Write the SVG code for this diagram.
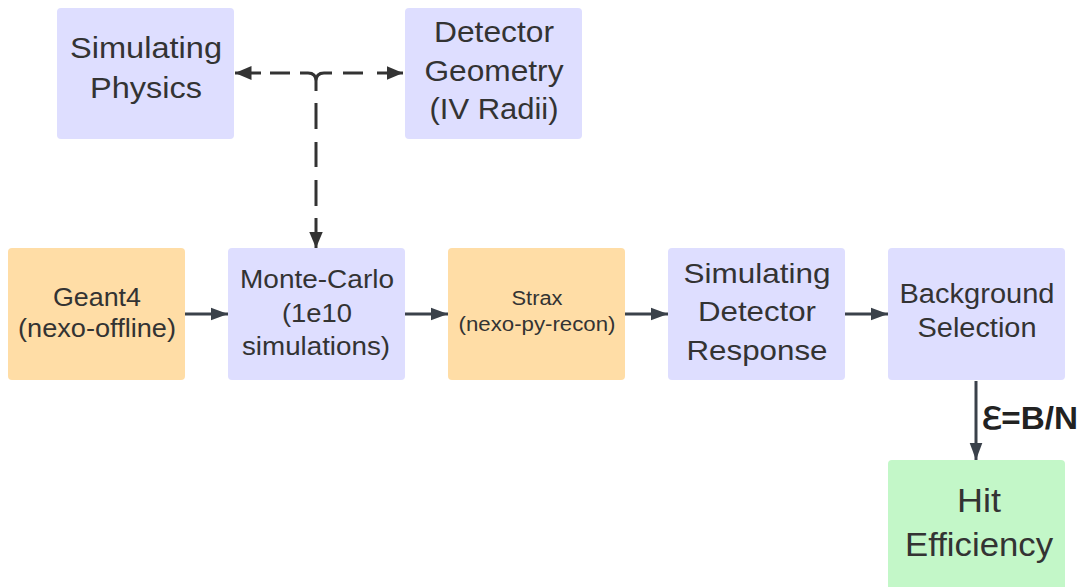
<svg xmlns="http://www.w3.org/2000/svg" width="1081" height="587" viewBox="0 0 1081 587">
<style>
.lav{fill:#dedeff}
.org{fill:#ffdda6}
.grn{fill:#c3f7c8}
text{font-family:"Liberation Sans",Arial,sans-serif;fill:#333333;text-anchor:middle}
.c{stroke:#3a414a;stroke-width:3;fill:none}
.d{stroke:#333333;stroke-width:3;fill:none}
</style>
<defs>
<marker id="ah" viewBox="0 0 10 10" refX="10" refY="5" markerWidth="5.7" markerHeight="5.7" orient="auto" markerUnits="strokeWidth">
<path d="M0,1.3 L10,5 L0,8.7 z" fill="#3a414a"/>
</marker>
<marker id="ad" viewBox="0 0 10 10" refX="10" refY="5" markerWidth="5.5" markerHeight="5.5" orient="auto" markerUnits="strokeWidth">
<path d="M0,0.8 L10,5 L0,9.2 z" fill="#333333"/>
</marker>
</defs>
<g id="connectors">
<line class="d" x1="261" y1="73" x2="235" y2="73" marker-end="url(#ad)"/>
<line class="d" x1="270" y1="73" x2="290" y2="73"/>
<path class="d" d="M300,73 L308,73 Q316,73 316,81 L316,91 M332,73 L324,73 Q316,73 316,81"/>
<line class="d" x1="343" y1="73" x2="363" y2="73"/>
<line class="d" x1="377" y1="73" x2="403" y2="73" marker-end="url(#ad)"/>
<line class="d" x1="316" y1="103" x2="316" y2="129"/>
<line class="d" x1="316" y1="142" x2="316" y2="167"/>
<line class="d" x1="316" y1="180" x2="316" y2="206"/>
<line class="d" x1="316" y1="218" x2="316" y2="248" marker-end="url(#ad)"/>
<line class="c" x1="185" y1="314" x2="228" y2="314" marker-end="url(#ah)"/>
<line class="c" x1="405" y1="314" x2="448" y2="314" marker-end="url(#ah)"/>
<line class="c" x1="625" y1="314" x2="668" y2="314" marker-end="url(#ah)"/>
<line class="c" x1="845" y1="314" x2="888" y2="314" marker-end="url(#ah)"/>
<line class="c" x1="976" y1="381" x2="976" y2="460" marker-end="url(#ah)"/>
<text x="1030" y="429" textLength="96" lengthAdjust="spacingAndGlyphs" style="font-weight:bold;font-size:31px;fill:#222">ℇ=B/N</text>
</g>
<g id="physics">
<rect class="lav" x="57" y="8" width="177" height="131" rx="4"/>
<text x="146" y="58" font-size="29" textLength="152" lengthAdjust="spacingAndGlyphs">Simulating</text>
<text x="146" y="98" font-size="29" textLength="112" lengthAdjust="spacingAndGlyphs">Physics</text>
</g>
<g id="geometry">
<rect class="lav" x="405" y="8" width="177" height="131" rx="4"/>
<text x="494" y="42" font-size="29" textLength="120" lengthAdjust="spacingAndGlyphs">Detector</text>
<text x="494" y="81" font-size="29" textLength="139" lengthAdjust="spacingAndGlyphs">Geometry</text>
<text x="494" y="119" font-size="29" textLength="129" lengthAdjust="spacingAndGlyphs">(IV Radii)</text>
</g>
<g id="geant4">
<rect class="org" x="8" y="248" width="177" height="132" rx="4"/>
<text x="97" y="306" font-size="25" textLength="88" lengthAdjust="spacingAndGlyphs">Geant4</text>
<text x="97" y="337" font-size="25" textLength="158" lengthAdjust="spacingAndGlyphs">(nexo-offline)</text>
</g>
<g id="montecarlo">
<rect class="lav" x="228" y="248" width="177" height="132" rx="4"/>
<text x="317" y="288" font-size="25" textLength="154" lengthAdjust="spacingAndGlyphs">Monte-Carlo</text>
<text x="317" y="322" font-size="25" textLength="70" lengthAdjust="spacingAndGlyphs">(1e10</text>
<text x="316" y="355" font-size="25" textLength="148" lengthAdjust="spacingAndGlyphs">simulations)</text>
</g>
<g id="strax">
<rect class="org" x="448" y="248" width="177" height="132" rx="4"/>
<text x="537" y="305" font-size="20" textLength="51" lengthAdjust="spacingAndGlyphs">Strax</text>
<text x="537" y="331" font-size="20" textLength="157" lengthAdjust="spacingAndGlyphs">(nexo-py-recon)</text>
</g>
<g id="response">
<rect class="lav" x="668" y="248" width="177" height="132" rx="4"/>
<text x="757" y="283" font-size="28" textLength="147" lengthAdjust="spacingAndGlyphs">Simulating</text>
<text x="757" y="321" font-size="28" textLength="118" lengthAdjust="spacingAndGlyphs">Detector</text>
<text x="757" y="360" font-size="28" textLength="141" lengthAdjust="spacingAndGlyphs">Response</text>
</g>
<g id="background">
<rect class="lav" x="888" y="248" width="177" height="132" rx="4"/>
<text x="977" y="303" font-size="27" textLength="155" lengthAdjust="spacingAndGlyphs">Background</text>
<text x="977" y="337" font-size="27" textLength="119" lengthAdjust="spacingAndGlyphs">Selection</text>
</g>
<g id="hit">
<rect class="grn" x="888" y="460" width="177" height="140" rx="4"/>
<text x="979" y="512" font-size="33" textLength="44" lengthAdjust="spacingAndGlyphs">Hit</text>
<text x="979" y="556" font-size="33" textLength="148" lengthAdjust="spacingAndGlyphs">Efficiency</text>
</g>
</svg>
